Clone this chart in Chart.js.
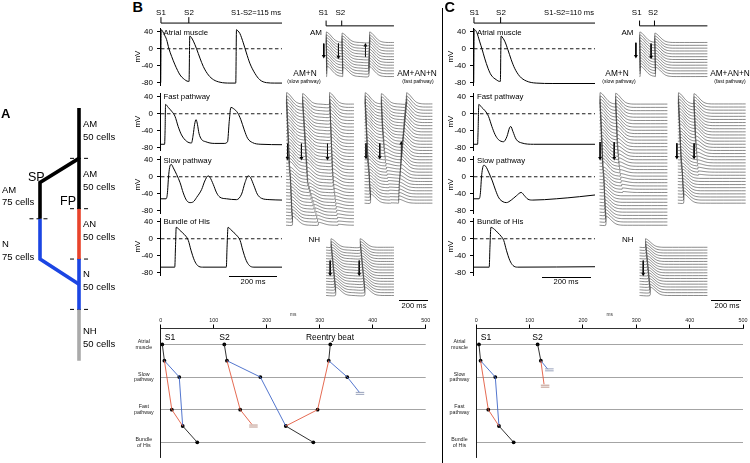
<!DOCTYPE html>
<html><head><meta charset="utf-8">
<script src="https://cdn.jsdelivr.net/npm/chart.js@4.4.1/dist/chart.umd.min.js"></script>
<style>
body{margin:0;width:750px;height:463px;overflow:hidden;background:#fff;position:relative;font-family:"Liberation Sans",Arial,Helvetica,sans-serif;color:#000}
canvas{position:absolute}
.t{position:absolute;white-space:nowrap;line-height:1;z-index:5}
</style></head><body>
<script>
// ================= DATA =================
// Single-cell action potentials: [time ms, membrane potential mV]
const bAtrial = [[-1,-80],[1,45],[8,40],[15,32],[23,22],[33,0],[44,-18],[58,-38],[79,-62],[92,-70],[113,-77],[116,-77],[119,30],[125,27],[134,18],[147,0],[161,-22],[175,-42],[196,-62],[217,-73],[244,-79],[285,-81],[309,-81],[312,45],[318,42],[326,36],[340,14],[353,-10],[367,-34],[388,-58],[408,-73],[436,-80],[470,-81],[500,-81]];
const bFast = [[-1,-72],[15,-72],[17,-40],[19,22],[30,15],[44,6],[58,-6],[71,-30],[85,-50],[106,-65],[126,-69],[133,-50],[139,-25],[145,-14],[151,-26],[157,-46],[167,-60],[185,-66],[220,-70],[261,-70],[275,-66],[282,-18],[289,15],[300,12],[317,2],[330,-14],[344,-38],[358,-58],[378,-68],[413,-72],[500,-73]];
const bSlow = [[-1,-52],[21,-52],[26,-42],[32,5],[37,25],[43,29],[51,21],[65,5],[79,-14],[92,-38],[106,-56],[120,-61],[134,-59],[147,-49],[168,-30],[181,-10],[195,2],[202,-1],[216,-18],[230,-38],[243,-48],[271,-52],[312,-54],[333,-41],[347,-14],[360,2],[370,-2],[384,-21],[398,-41],[416,-51],[450,-54],[500,-55]];
const bHis = [[-1,-67],[57,-67],[60,-20],[63,27],[75,22],[89,14],[103,6],[113,-4],[124,-27],[138,-51],[151,-63],[172,-67],[270,-67],[273,-20],[277,27],[288,22],[302,14],[316,6],[327,-4],[338,-27],[352,-51],[365,-63],[384,-67],[500,-67]];
const cAtrial = [[-1,-80],[1,46],[4,45],[12,38],[23,18],[34,-2],[44,-22],[58,-46],[71,-62],[92,-73],[106,-77],[109,-77],[112,30],[116,28],[127,18],[140,-2],[154,-26],[168,-46],[189,-65],[216,-76],[257,-81],[326,-82],[500,-82]];
const cFast = [[-1,-72],[15,-72],[17,-40],[20,22],[32,15],[46,7],[60,-6],[74,-30],[87,-49],[101,-61],[122,-66],[136,-54],[147,-33],[152,-30],[161,-42],[174,-60],[198,-69],[246,-72],[500,-72]];
const cSlow = [[-1,-52],[21,-52],[26,-42],[32,5],[40,27],[48,25],[62,9],[76,-10],[90,-33],[103,-50],[120,-59],[134,-61],[154,-55],[175,-45],[195,-37],[209,-45],[223,-53],[243,-55],[340,-52],[436,-47],[500,-43]];
const cHis = [[-1,-67],[63,-67],[66,-20],[70,27],[85,22],[99,14],[112,6],[123,-4],[134,-27],[148,-51],[161,-63],[180,-67],[500,-66]];
const mvTicks = [-80,-40,0,40];
const bStim = [0,115];
const cStim = [0,110];

// Stacked traces: per-trace activation onsets (ms) and amplitudes (trace spacings)
const apShape = [[2,1],[8,0.97],[18,0.88],[30,0.72],[45,0.5],[60,0.3],[75,0.15],[92,0.06],[110,0.02],[130,0]];
const bAmOnS1 = [0,0,1,1,1,2,2,2,3,3,3,4,4];
const bAmOnS2 = [116,116,117,117,118,118,119,119,120,120,121,121,122];
const bAmOnRe = [319,318,318,317,317,316,316,315,315,314,314,313,313];
const amAmpS1 = [3.7,3.7,3.7,3.7,3.7,3.7,3.7,3.7,3.7,3.7,3.7,3.7,3.7];
const amAmpS2 = [3.3,3.3,3.3,3.3,3.3,3.3,3.3,3.3,3.3,3.3,3.3,3.3,3.3];
const cAmOnS1 = [0,0,1,1,1,2,2,2,3,3,3,4,4];
const cAmOnS2 = [111,111,112,112,113,113,114,114,115,115,116,116,117];

const slowOnS1 = [2,3,4,5,6,7,8,9,10,11,12,13,14,15,16,17,18,19,20,21,22,24,26,28,30,31,32,33,34,35,36,37,38,39,40,42,44,45];
const slowAmpS1 = [3.5,3.5,3.5,3.5,3.5,3.5,3.5,3.5,3.5,3.5,3.5,3.5,3.5,3.5,3.5,3.5,3.5,3.5,3.5,3.5,3.5,3.5,2.8,2.8,2.8,2.8,2.8,2.8,2.8,2.8,2.8,2.8,2.8,2.8,2.8,2.8,2.8,2.8];
const bSlowOnS2 = [120,121,123,124,126,127,129,130,132,133,135,136,138,139,141,142,144,145,147,148,150,151,153,154,156,158,165,171,177,183,190,197,204,211,218,224,230,236];
const bSlowAmpS2 = [3.2,3.2,3.2,3.2,3.2,3.2,3.2,3.2,3.2,3.2,3.2,3.2,3.2,3.2,3.2,3.2,3.2,3.2,3.2,3.2,3.2,3.2,2.8,2.6,2.4,2.2,2.0,1.9,1.8,1.7,1.6,1.5,1.4,1.3,1.2,1.1,1.0,0.9];
const bSlowOnRe = [318,319,320,321,322,323,324,325,326,327,328,329,330,331,332,333,334,335,336,337,338,339,341,343,345,346,350,353,356,359,362,365,368,371,374,377,380,383];
const bSlowAmpRe = [3.5,3.5,3.4,3.4,3.3,3.3,3.2,3.2,3.1,3.1,3.0,3.0,2.9,2.9,2.8,2.8,2.7,2.7,2.6,2.6,2.5,2.5,2.3,2.1,1.9,1.7,1.5,1.3,1.1,1.0,0.9,0.8,0.7,0.6,0.5,0.4,0.3,0.3];
const cSlowOnS2 = [117,118,119,120,121,122,123,124,125,126,127,128,129,130,132,134,136,138,140,143,146,149,152,155,158,162,166,170,174,178,182,186,190,194,198,202,206,210];
const cSlowAmpS2 = [3.3,3.3,3.3,3.3,3.3,3.3,3.3,3.3,3.3,3.3,3.2,3.0,2.8,2.6,2.4,2.2,2.0,1.8,1.6,1.4,1.2,1.0,0.8,0.7,0.6,0.5,0.4,0.3,0,0,0,0,0,0,0,0,0,0];

const fastOnS1 = [3,4,5,6,7,8,9,10,11,12,13,14,15,16,17,18,19,20,21,22,24,26,28,30,32,33,34,35,36,38,40,41,42];
const fastAmpS1 = [3.6,3.6,3.6,3.6,3.6,3.6,3.6,3.6,3.6,3.6,3.6,3.3,3.3,3.3,3.3,3.3,3.3,3.3,3.3,3.3,3.3,3.3,3.0,3.0,3.0,3.0,3.0,3.0,3.0,3.0,3.0,3.0,3.0];
const bFastOnS2 = [122,123,124,125,126,127,128,129,130,131,133,135,137,139,141,143,145,148,151,154,157,160,163,166,169,172,175,178,181,184,187,190,193];
const bFastAmpS2 = [3.3,3.3,3.3,3.3,3.3,3.3,3.3,3.3,3.3,3.3,3.3,3.3,3.0,2.7,2.4,2.1,1.8,1.5,1.2,1.0,0.8,0.6,0.5,0.4,0.3,0.3,0.2,0.2,0.2,0.1,0.1,0.1,0.1];
const bFastOnRe = [308,306,304,302,300,298,296,294,292,290,288,286,284,282,280,278,276,274,272,270,268,266,264,262,260,258,256,255,254,253,252,251,250];
const bFastAmpRe = [3.6,3.6,3.6,3.6,3.6,3.6,3.6,3.6,3.6,3.6,3.6,3.3,3.3,3.3,3.3,3.3,3.3,3.3,3.3,3.3,3.3,3.3,2.6,2.4,2.2,2.0,1.9,1.8,1.7,1.6,1.5,1.4,1.3];
const cFastOnS2 = [117,118,119,120,121,122,123,124,125,126,127,128,129,131,133,135,137,139,141,143,145,147,149,151,153,155,157,159,161,163,165,167,169];
const cFastAmpS2 = [3.3,3.3,3.3,3.3,3.3,3.3,3.3,3.3,3.3,3.3,3.3,3.3,3.0,2.7,2.4,2.1,1.8,1.5,1.2,1.0,0.8,0.6,0.4,0.3,0,0,0,0,0,0,0,0,0];

const bNhOnS1 = [34,36,38,40,42,44,46,48,50,52,54,56,58,60,62,64,66,68];
const bNhOnS2 = [249,251,253,255,257,259,261,263,265,267,269,271,273,275,277,279,281,283];
const cNhOnS1 = [42,44,46,48,50,52,54,56,58,60,62,64,66,68,70,72,74,76];
const nhAmp = [3.0,3.0,3.0,3.0,3.0,3.0,3.0,3.0,3.0,3.0,3.0,3.0,3.0,3.0,3.0,3.0,3.0,3.0];

// Arrows on stacks: [time ms, from trace, to trace]
const bAmArrows = [[-17,0.4,4.8],[91,0.4,5.1],[290,5.1,1.0]];
const bSlowArrows = [[11,12.1,16.5],[113,12.1,16.5],[305,12.1,16.5]];
const bFastArrows = [[11,12.7,17.2],[112,12.7,17.2],[271,17.2,12.7]];
const bNhArrows = [[30,4.7,9.4],[244,4.7,9.4]];
const cAmArrows = [[-27,0.1,4.8],[85,0.4,5.1]];
const cSlowArrows = [[4,11.6,16.5],[108,11.6,16.5]];
const cFastArrows = [[-7,12.7,17.2],[120,12.7,17.2]];
const cNhArrows = [[27,4.7,9.4]];

// Ladder diagrams: [time ms, level]; levels 0 atrial, 1 slow, 2 fast, 3 His
const ladderTicks = [0,100,200,300,400,500];
const ladderRows = [['Atrial','muscle'],['Slow','pathway'],['Fast','pathway'],['Bundle','of His']];
const bLadBlack = [[[3,0],[7,0.5]],[[41.5,2.5],[69,3]],[[120,0],[125,0.5]],[[236,2.5],[288,3]],[[317,0.5],[320,0]]];
const bLadRed = [[[7,0.5],[21,2],[41.5,2.5]],[[125,0.5],[150,2],[172,2.45]],[[236,2.5],[296,2],[317,0.5]]];
const bLadBlue = [[[7,0.5],[35,1],[41.5,2.5]],[[125,0.5],[188,1],[236,2.5]],[[317,0.5],[352,1],[375,1.47]]];
const bLadDots = [[3,0],[7,0.5],[35,1],[21,2],[41.5,2.5],[69,3],[120,0],[125,0.5],[188,1],[150,2],[236,2.5],[288,3],[296,2],[317,0.5],[320,0],[352,1]];
const bLadBlocks = [[167,183,2.5,'r'],[368,384,1.5,'b']];
const cLadBlack = [[[5,0],[8,0.5]],[[42.5,2.5],[70,3]],[[115,0],[121,0.5]]];
const cLadRed = [[[8,0.5],[22.5,2],[42.5,2.5]],[[121,0.5],[127,1.22]]];
const cLadBlue = [[[8,0.5],[35.6,1],[42.5,2.5]],[[121,0.5],[134,0.76]]];
const cLadDots = [[5,0],[8,0.5],[35.6,1],[22.5,2],[42.5,2.5],[70,3],[115,0],[121,0.5]];
const cLadBlocks = [[129,145,0.78,'b'],[121,137,1.28,'r']];

// Schematic (panel A): [pathway x (0 = SP, 1 = FP), cell position]
const schemBlack = [[[1,0],[1,100]],[[1,50],[0,74],[0,110]]];
const schemRed = [[[1,100],[1,150]]];
const schemBlue = [[[1,150],[1,200]],[[0,110],[0,150],[1,175]]];
const schemGray = [[[1,200],[1,251]]];
const schemDash = [[[0.77,50],[1.28,50]],[[0.77,100],[1.28,100]],[[0.77,150],[1.28,150]],[[0.77,200],[1.28,200]],[[-0.27,110],[0.26,110]]];

// ================= RENDER =================
const FONT = '"Liberation Sans", Arial, Helvetica, sans-serif';
Chart.defaults.font.family = FONT;
Chart.defaults.color = '#000';

function mkCanvas(left, top, w, h) {
  const c = document.createElement('canvas');
  c.width = w; c.height = h;
  Object.assign(c.style, {left: left + 'px', top: top + 'px', width: w + 'px', height: h + 'px'});
  document.body.appendChild(c);
  return c.getContext('2d');
}
function txt(s, x, y, size, align, extra) {
  const d = document.createElement('div');
  d.className = 't';
  d.innerHTML = s;
  d.style.fontSize = size + 'px';
  d.style.left = x + 'px';
  d.style.top = y + 'px';
  const tx = align === 'center' ? '-50%' : (align === 'right' ? '-100%' : '0');
  d.style.transform = 'translate(' + tx + ',-50%)';
  d.style.textAlign = align || 'left';
  if (extra) Object.assign(d.style, extra);
  document.body.appendChild(d);
}
const baseOpts = (scales, padding) => ({
  responsive: false, animation: false, events: [],
  layout: {padding: padding || 0},
  plugins: {legend: {display: false}, tooltip: {enabled: false}},
  scales: scales
});
const line = (pts, color, width, extra) => Object.assign({
  data: pts.map(p => ({x: p[0], y: p[1]})), showLine: true, pointRadius: 0,
  borderColor: color, backgroundColor: color, borderWidth: width
}, extra || {});

// ---- single traces ----
const TR_AXIS_W = 30, TR_PAD_T = 12, TR_PAD_B = 8, TR_PAD_R = 4, TR_W = 122, TR_CH = 78;
const TR_MIN = -86, TR_MAX = 49;
const STIM_Y = 23, STIM_TICK_Y = 17;
function tracePanel(axisX, y40, series, stim) {
  const plotH = TR_CH - TR_PAD_T - TR_PAD_B;
  const ppm = plotH / (TR_MAX - TR_MIN);
  const plotTop = Math.round(y40 - (TR_MAX - 40) * ppm);
  const ctx = mkCanvas(axisX - TR_AXIS_W, plotTop - TR_PAD_T, TR_AXIS_W + TR_W + TR_PAD_R, TR_CH);
  const ds = [
    line(series, '#000', 1, {cubicInterpolationMode: 'monotone'}),
    line([[0,0],[500,0]], '#000', 0.9, {borderDash: [3.5, 2.5]})
  ];
  if (stim) {
    const yL = TR_MAX + (plotTop - STIM_Y) / ppm, yT = TR_MAX + (plotTop - STIM_TICK_Y) / ppm;
    ds.push(line([[0,yL],[500,yL]], '#000', 1, {clip: false}));
    stim.forEach(t => ds.push(line([[t,yL],[t,yT]], '#000', 1, {clip: false})));
  }
  new Chart(ctx, {type: 'scatter', data: {datasets: ds}, options: baseOpts({
    x: {type: 'linear', min: -4, max: 500, display: false},
    y: {type: 'linear', min: TR_MIN, max: TR_MAX,
      afterBuildTicks: s => { s.ticks = mvTicks.map(v => ({value: v})); },
      afterFit: s => { s.width = TR_AXIS_W; },
      ticks: {font: {size: 8}, color: '#000', padding: 4},
      grid: {drawOnChartArea: false, drawTicks: true, tickLength: 3, color: '#000'},
      border: {display: true, color: '#000', width: 1},
      title: {display: true, text: 'mV', font: {size: 8}, color: '#000', padding: {top: 3, bottom: 0}}
    }
  }, {top: TR_PAD_T, bottom: TR_PAD_B, left: 0, right: TR_PAD_R})});
}

// ---- stacked traces ----
const ST_PX_PER_MS = 0.148;
function stackTrace(i, beats) {
  const ev = beats.map(b => ({on: b.on[i], amp: b.amp[i]})).filter(e => e.amp > 0).sort((a, b) => a.on - b.on);
  const pts = [[0, i]];
  ev.forEach((e, k) => {
    const next = k + 1 < ev.length ? ev[k + 1].on : 500;
    if (e.on > 0) pts.push([e.on, i]);
    apShape.forEach(([dt, f]) => { const t = e.on + dt; if (t < next) pts.push([t, i - e.amp * f]); });
  });
  pts.push([500, i]);
  return pts;
}
function stackPanel(x0, baseTop, spacing, n, beats, arrows, stim, topUnits) {
  const leftPx = 14, W = 96;
  const left = Math.round(x0 - leftPx);
  const top = Math.round(baseTop - (topUnits || 5) * spacing);
  const H = Math.ceil(baseTop - top + n * spacing);
  const xMin = (left - x0) / ST_PX_PER_MS, xMax = xMin + W / ST_PX_PER_MS;
  const yMin = (top - baseTop) / spacing, yMax = yMin + H / spacing;
  const ctx = mkCanvas(left, top, W, H);
  const ds = [];
  for (let i = 0; i < n; i++) ds.push(line(stackTrace(i, beats), '#3c3c3c', 0.6, {tension: 0.2}));
  arrows.forEach(a => ds.push(line([[a[0], a[1]], [a[0], a[2]]], '#000', 1, {
    clip: false, pointRadius: [0, 2.3], pointStyle: 'triangle', pointRotation: a[2] > a[1] ? 180 : 0, pointBorderWidth: 0
  })));
  if (stim) {
    const yL = (STIM_Y - baseTop) / spacing, yT = (STIM_TICK_Y - baseTop) / spacing;
    ds.push(line([[0,yL],[500,yL]], '#000', 1, {clip: false}));
    stim.forEach(t => ds.push(line([[t,yL],[t,yT]], '#000', 1, {clip: false})));
  }
  new Chart(ctx, {type: 'scatter', data: {datasets: ds}, options: baseOpts({
    x: {type: 'linear', min: xMin, max: xMax, display: false},
    y: {type: 'linear', min: yMin, max: yMax, reverse: true, display: false}
  })});
}

// ---- ladder diagrams ----
function ladderPanel(x0, x1, black, red, blue, dots, blocks) {
  const axisTop = 327.5, axisBot = 460, lvl0 = 344.3, step = 33.5, axisH = 16, padB = 10;
  const left = Math.round(x0 - 34);
  const axisW = x0 - left;
  const W = Math.round(axisW + (x1 - x0) + 9);
  const padR = left + W - x1;
  const top = Math.round(axisTop - axisH);
  const H = Math.ceil(axisBot - top + padB);
  const ctx = mkCanvas(left, top, W, H);
  const ds = [];
  blocks.forEach(b => {
    const c = b[3] === 'r' ? '#b58b7e' : '#8d97b3';
    ds.push(line([[b[0], b[2] - 0.03], [b[1], b[2] - 0.03]], c, 0.9));
    ds.push(line([[b[0], b[2] + 0.03], [b[1], b[2] + 0.03]], c, 0.9));
  });
  red.forEach(s => ds.push(line(s, '#e25a3f', 0.9)));
  blue.forEach(s => ds.push(line(s, '#3f67c8', 0.9)));
  black.forEach(s => ds.push(line(s, '#1a1a1a', 0.9)));
  ds.push({data: dots.map(p => ({x: p[0], y: p[1]})), showLine: false, pointRadius: 1.9,
    backgroundColor: '#000', borderColor: '#000', pointBorderWidth: 0});
  new Chart(ctx, {type: 'scatter', data: {datasets: ds}, options: baseOpts({
    x: {type: 'linear', position: 'top', min: 0, max: 500,
      afterBuildTicks: s => { s.ticks = ladderTicks.map(v => ({value: v})); },
      afterFit: s => { s.height = axisH; },
      ticks: {font: {size: 5.4, lineHeight: 1}, color: '#222', padding: 1, maxRotation: 0},
      grid: {drawOnChartArea: false, drawTicks: true, tickLength: 3.5, color: '#000'},
      border: {display: true, color: '#000', width: 0.8},
      title: {display: true, text: 'ms', font: {size: 4.8}, color: '#333', padding: {top: 0, bottom: 0}}
    },
    y: {type: 'linear', reverse: true, min: (axisTop - lvl0) / step, max: (axisBot - lvl0) / step,
      afterBuildTicks: s => { s.ticks = [0,1,2,3].map(v => ({value: v})); },
      afterFit: s => { s.width = axisW; },
      ticks: {font: {size: 5.3, lineHeight: 1.1}, color: '#222', padding: 7, crossAlign: 'center',
        callback: (v, i) => ladderRows[i]},
      grid: {drawOnChartArea: true, drawTicks: false, color: '#9a9a9a', lineWidth: 0.9},
      border: {display: true, color: '#000', width: 0.9}
    }
  }, {top: 0, bottom: padB, left: 0, right: padR})});
}

// ---- schematic ----
function schematic() {
  const left = 0, top = 100, W = 130, H = 270, fpX = 79, spX = 40, y0 = 108, ppc = 1.007;
  const ppu = fpX - spX;
  const ctx = mkCanvas(left, top, W, H);
  const ds = [];
  const add = (segs, c) => segs.forEach(s => ds.push(line(s, c, 3.6, {borderJoinStyle: 'miter', borderCapStyle: 'butt'})));
  add(schemBlack, '#000');
  add(schemRed, '#e8432b');
  add(schemBlue, '#1b45e3');
  add(schemGray, '#aaaaaa');
  schemDash.forEach(s => ds.push(line(s, '#000', 1, {borderDash: [4, 3]})));
  new Chart(ctx, {type: 'scatter', data: {datasets: ds}, options: baseOpts({
    x: {type: 'linear', min: (left - spX) / ppu, max: (left + W - spX) / ppu, display: false},
    y: {type: 'linear', reverse: true, min: (top - y0) / ppc, max: (top + H - y0) / ppc, display: false}
  })});
}

// ================= BUILD =================
schematic();

// Panel B traces
tracePanel(160, 32, bAtrial, bStim);
tracePanel(160, 96.7, bFast);
tracePanel(160, 160, bSlow);
tracePanel(160, 221.7, bHis);
// Panel C traces
tracePanel(473.4, 32.3, cAtrial, cStim);
tracePanel(473.4, 96.7, cFast);
tracePanel(473.4, 160, cSlow);
tracePanel(473.4, 221.7, cHis);

// Panel B stacks
stackPanel(323.3, 41.7, 3.2, 13, [{on: bAmOnS1, amp: amAmpS1}, {on: bAmOnS2, amp: amAmpS2}, {on: bAmOnRe, amp: amAmpS1}], bAmArrows, bStim, 9);
stackPanel(283.3, 101, 3.46, 38, [{on: slowOnS1, amp: slowAmpS1}, {on: bSlowOnS2, amp: bSlowAmpS2}, {on: bSlowOnRe, amp: bSlowAmpRe}], bSlowArrows);
stackPanel(361.7, 101, 3.31, 33, [{on: fastOnS1, amp: fastAmpS1}, {on: bFastOnS2, amp: bFastAmpS2}, {on: bFastOnRe, amp: bFastAmpRe}], bFastArrows);
stackPanel(323.3, 245, 3.18, 18, [{on: bNhOnS1, amp: nhAmp}, {on: bNhOnS2, amp: nhAmp}], bNhArrows);
// Panel C stacks
stackPanel(636.7, 41.7, 3.2, 13, [{on: cAmOnS1, amp: amAmpS1}, {on: cAmOnS2, amp: amAmpS2}], cAmArrows, cStim, 9);
stackPanel(596.7, 101, 3.46, 38, [{on: slowOnS1, amp: slowAmpS1}, {on: cSlowOnS2, amp: cSlowAmpS2}], cSlowArrows);
stackPanel(675, 101, 3.31, 33, [{on: fastOnS1, amp: fastAmpS1}, {on: cFastOnS2, amp: cFastAmpS2}], cFastArrows);
stackPanel(636.7, 245, 3.18, 18, [{on: cNhOnS1, amp: nhAmp}], cNhArrows);

// Ladders
ladderPanel(160.7, 425.7, bLadBlack, bLadRed, bLadBlue, bLadDots, bLadBlocks);
ladderPanel(476.3, 743, cLadBlack, cLadRed, cLadBlue, cLadDots, cLadBlocks);

// Scale bars & divider (decorations)
function hbar(x0, x1, y) { const d = document.createElement('div'); Object.assign(d.style, {position: 'absolute', left: x0 + 'px', top: y + 'px', width: (x1 - x0) + 'px', height: '1px', background: '#000'}); document.body.appendChild(d); }
hbar(229, 277, 276); hbar(541.7, 590.7, 276.5);
hbar(399, 428, 299.5); hbar(711, 741, 299.5);
(function () { const d = document.createElement('div'); Object.assign(d.style, {position: 'absolute', left: '442px', top: '8px', width: '1px', height: '455px', background: '#000'}); document.body.appendChild(d); })();

// ================= TEXT =================
// Panel A
txt('A', 1, 112.5, 13, 'left', {fontWeight: 'bold'});
[['AM', 129.5], ['AM', 179.5], ['AN', 229.5], ['N', 279.5], ['NH', 336.5]].forEach(([s, y]) => txt(s + '<br>50 cells', 83, y, 9.5, 'left', {lineHeight: '13px'}));
txt('SP', 28, 177, 12.5, 'left');
txt('FP', 60, 201, 12.5, 'left');
txt('AM<br>75 cells', 2, 196, 9.5, 'left', {lineHeight: '12px'});
txt('N<br>75 cells', 2, 249.5, 9.5, 'left', {lineHeight: '13px'});

// Panel B
txt('B', 132.5, 7, 14.5, 'left', {fontWeight: 'bold'});
txt('S1', 161, 12.5, 8, 'center'); txt('S2', 189, 12.5, 8, 'center');
txt('S1-S2=115 ms', 281, 12.5, 7.6, 'right');
txt('Atrial muscle', 163.5, 32.5, 7.8); txt('Fast pathway', 163.5, 96.7, 7.8);
txt('Slow pathway', 163.5, 160.5, 7.8); txt('Bundle of His', 163.5, 222, 7.8);
txt('200 ms', 253, 281.5, 7.6, 'center');
txt('S1', 323.3, 12.5, 8, 'center'); txt('S2', 340.3, 12.5, 8, 'center');
txt('AM', 322, 32.5, 8, 'right');
txt('AM+N', 305, 72.7, 8.3, 'center'); txt('(slow pathway)', 304, 81, 5, 'center');
txt('AM+AN+N', 417, 72.7, 8.3, 'center'); txt('(fast pathway)', 418, 81, 5, 'center');
txt('NH', 320, 239.5, 8, 'right');
txt('200 ms', 414, 305.5, 7.6, 'center');
txt('S1', 170, 336.5, 8.6, 'center'); txt('S2', 224.5, 336.5, 8.6, 'center');
txt('Reentry beat', 330, 336.5, 8.4, 'center');

// Panel C
txt('C', 444.5, 7, 14.5, 'left', {fontWeight: 'bold'});
txt('S1', 474.3, 12.5, 8, 'center'); txt('S2', 501, 12.5, 8, 'center');
txt('S1-S2=110 ms', 594, 12.5, 7.6, 'right');
txt('Atrial muscle', 477, 32.5, 7.8); txt('Fast pathway', 477, 96.7, 7.8);
txt('Slow pathway', 477, 160.5, 7.8); txt('Bundle of His', 477, 222, 7.8);
txt('200 ms', 566, 282, 7.6, 'center');
txt('S1', 636.7, 12.5, 8, 'center'); txt('S2', 653, 12.5, 8, 'center');
txt('AM', 633.5, 32.5, 8, 'right');
txt('AM+N', 617, 72.7, 8.3, 'center'); txt('(slow pathway)', 619, 81, 5, 'center');
txt('AM+AN+N', 730, 72.7, 8.3, 'center'); txt('(fast pathway)', 730, 81, 5, 'center');
txt('NH', 633.5, 239.5, 8, 'right');
txt('200 ms', 727, 305.5, 7.6, 'center');
txt('S1', 486, 336.5, 8.6, 'center'); txt('S2', 537.5, 336.5, 8.6, 'center');
</script>
</body></html>
